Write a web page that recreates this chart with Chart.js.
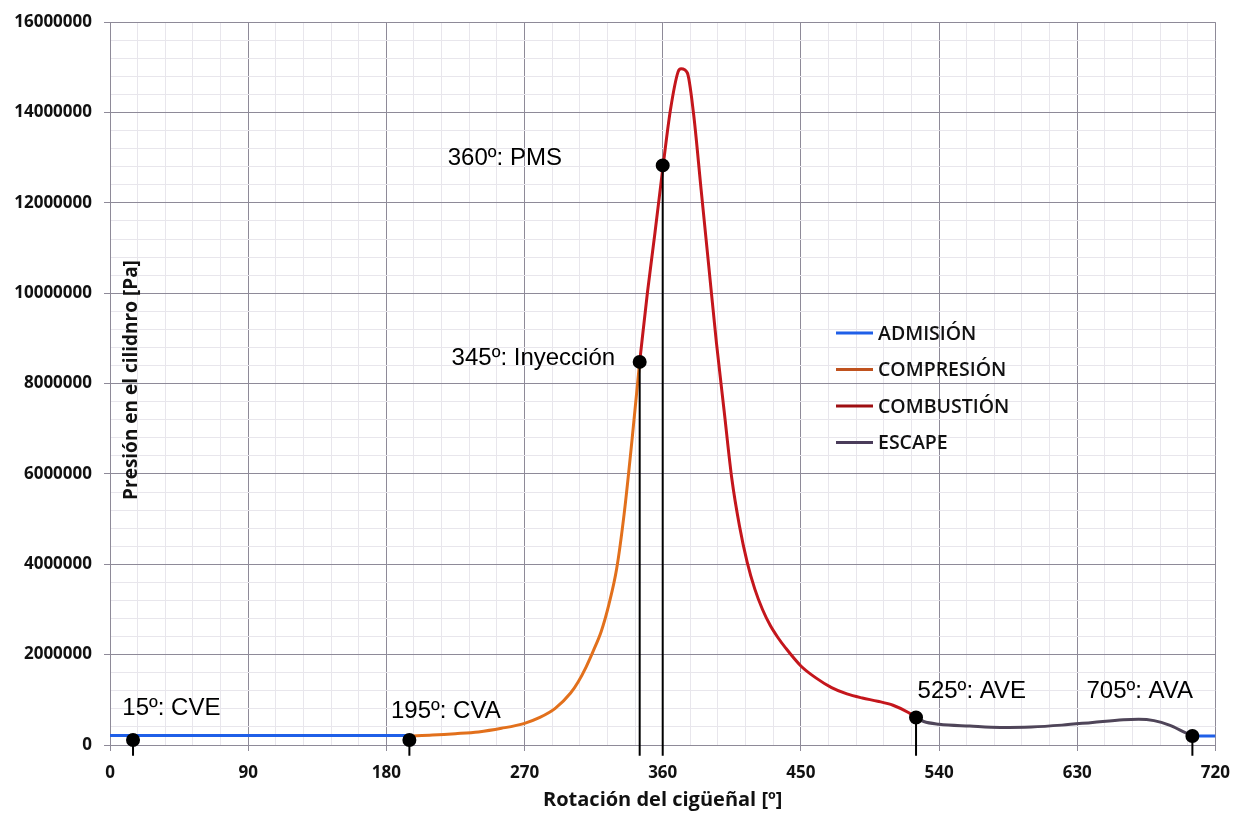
<!DOCTYPE html>
<html lang="es">
<head>
<meta charset="utf-8">
<title>Presión en el cilindro</title>
<script src="https://cdn.jsdelivr.net/npm/chart.js@4.4.1/dist/chart.umd.min.js"></script>
<style>
  html, body { margin: 0; padding: 0; background: #fff; }
</style>
</head>
<body>
<canvas id="presion" width="1242" height="816"></canvas>
<script>
// Datos: ángulo del cigüeñal (º) y presión (Pa)
const anguloAdmision = [0, 195];
const presionAdmision = [210000, 210000];
const anguloAdmisionFinal = [705, 720];
const presionAdmisionFinal = [200000, 200000];

const anguloCompresion = [195, 210, 225, 240, 255, 270, 280, 290, 300, 305, 310, 315, 320, 325, 330, 335, 340, 345];
const presionCompresion = [200000, 220000, 250000, 290000, 370000, 480000, 610000, 810000, 1150000, 1400000,
    1720000, 2100000, 2520000, 3120000, 3900000, 5150000, 6750000, 8480000];

const anguloCombustion = [345, 350, 355, 360, 365, 370, 372, 376, 380, 385, 390, 395, 400, 405, 410, 415,
    420, 425, 430, 435, 440, 450, 460, 470, 480, 490, 500, 510, 520, 525];
const presionCombustion = [8480000, 10000000, 11350000, 12750000, 14050000, 14900000, 14970000, 14880000,
    14000000, 12300000, 10600000, 8900000, 7400000, 5900000, 4850000, 4050000, 3450000, 3000000, 2650000,
    2380000, 2150000, 1750000, 1480000, 1270000, 1130000, 1040000, 970000, 880000, 720000, 610000];

const anguloEscape = [525, 530, 540, 560, 580, 600, 620, 640, 660, 670, 680, 690, 700, 705];
const presionEscape = [610000, 520000, 460000, 420000, 390000, 400000, 440000, 500000, 560000, 570000,
    540000, 440000, 280000, 200000];

// Eventos marcados con punto negro y línea vertical
const anguloEventos = [15, 195, 345, 360, 525, 705];
const presionEventos = [110000, 110000, 8480000, 12830000, 610000, 200000];
const textoEventos = ['15º: CVE', '195º: CVA', '345º: Inyección', '360º: PMS', '525º: AVE', '705º: AVA'];

const etiquetasFases = ['ADMISIÓN', 'COMPRESIÓN', 'COMBUSTIÓN', 'ESCAPE'];

// Colores
const colorFases = ['#1f5fe8', '#e2701c', '#c4161c', '#4f4559'];
const colorLeyenda = ['#1f5fe8', '#c0521e', '#9e0e12', '#4a3c5a'];
const gridMayor = '#8e8a98';
const gridMenor = '#e8e6ec';

// Posición de los textos de cada evento (en coordenadas de los ejes)
const anclaTextos = [[8, 820000], [183, 750000], [222.5, 8560000], [220, 12980000], [526, 1190000], [636, 1190000]];

const puntos = (xs, ys) => xs.map((x, i) => ({ x: x, y: ys[i] }));

const lineaFase = (label, xs, ys, color) => ({
    label: label,
    data: puntos(xs, ys),
    borderColor: color,
    backgroundColor: color,
    borderWidth: 3,
    pointRadius: 0,
    cubicInterpolationMode: 'monotone'
});

// Líneas verticales de los eventos (bajan un poco por debajo del eje)
const lineasEventos = anguloEventos.map((a, i) => ({
    label: textoEventos[i],
    data: [{ x: a, y: presionEventos[i] }, { x: a, y: -240000 }],
    borderColor: '#000',
    backgroundColor: '#000',
    borderWidth: 2,
    pointRadius: [6, 0],
    pointHoverRadius: [6, 0],
    clip: false
}));

const datasets = [
    ...lineasEventos,
    lineaFase(etiquetasFases[0], anguloAdmision, presionAdmision, colorFases[0]),
    lineaFase(etiquetasFases[0], anguloAdmisionFinal, presionAdmisionFinal, colorFases[0]),
    lineaFase(etiquetasFases[1], anguloCompresion, presionCompresion, colorFases[1]),
    lineaFase(etiquetasFases[2], anguloCombustion, presionCombustion, colorFases[2]),
    lineaFase(etiquetasFases[3], anguloEscape, presionEscape, colorFases[3])
];

// Textos, leyenda y título del eje Y dentro del área del gráfico
const anotaciones = {
    id: 'anotaciones',
    afterDatasetsDraw(chart) {
        const ctx = chart.ctx;
        const sx = chart.scales.x, sy = chart.scales.y;
        ctx.save();
        ctx.fillStyle = '#000';
        ctx.font = '24px "Liberation Sans", Arial, sans-serif';
        ctx.textAlign = 'left';
        ctx.textBaseline = 'middle';
        textoEventos.forEach((t, i) => {
            ctx.fillText(t, sx.getPixelForValue(anclaTextos[i][0]), sy.getPixelForValue(anclaTextos[i][1]));
        });

        // leyenda
        ctx.font = '600 19.5px "Open Sans", sans-serif';
        etiquetasFases.forEach((t, i) => {
            const y = 333 + i * 36.5;
            ctx.strokeStyle = colorLeyenda[i];
            ctx.lineWidth = 3;
            ctx.beginPath();
            ctx.moveTo(836, y);
            ctx.lineTo(873, y);
            ctx.stroke();
            ctx.fillStyle = '#111';
            ctx.fillText(t, 878, y + 1);
        });

        // título del eje Y
        ctx.translate(132, 380);
        ctx.rotate(-Math.PI / 2);
        ctx.textAlign = 'center';
        ctx.font = 'bold 19px "Open Sans", sans-serif';
        ctx.fillText('Presión en el cilidnro [Pa]', 0, 0);
        ctx.restore();
    }
};

const esMayorX = (v) => v % 90 === 0;
const esMayorY = (v) => v % 2000000 === 0;

new Chart(document.getElementById('presion'), {
    type: 'line',
    data: { datasets: datasets },
    options: {
        responsive: false,
        devicePixelRatio: 1,
        animation: false,
        layout: { padding: { top: 20, right: 26, left: 0, bottom: 0 } },
        plugins: {
            legend: { display: false },
            tooltip: { enabled: false }
        },
        scales: {
            x: {
                type: 'linear',
                min: 0,
                max: 720,
                afterFit: (scale) => { scale.height = 71; },
                ticks: {
                    stepSize: 18,
                    autoSkip: false,
                    maxRotation: 0,
                    padding: 12,
                    color: '#111',
                    font: { family: '"Open Sans", sans-serif', size: 17, weight: 'bold' },
                    callback: (v) => esMayorX(v) ? String(v) : ''
                },
                grid: {
                    color: (c) => esMayorX(c.tick.value) ? gridMayor : gridMenor,
                    tickColor: (c) => esMayorX(c.tick.value) ? gridMayor : 'rgba(0,0,0,0)',
                    tickLength: 6
                },
                border: { color: gridMayor },
                title: {
                    display: true,
                    text: 'Rotación del cigüeñal [º]',
                    color: '#111',
                    font: { family: '"Open Sans", sans-serif', size: 20, weight: 'bold' },
                    padding: { top: 0, bottom: 4 }
                }
            },
            y: {
                min: 0,
                max: 16000000,
                afterFit: (scale) => { scale.width = 110; },
                ticks: {
                    stepSize: 400000,
                    autoSkip: false,
                    padding: 12,
                    color: '#111',
                    font: { family: '"Open Sans", sans-serif', size: 17, weight: 'bold' },
                    callback: (v) => esMayorY(v) ? String(v) : ''
                },
                grid: {
                    color: (c) => esMayorY(c.tick.value) ? gridMayor : gridMenor,
                    tickColor: (c) => esMayorY(c.tick.value) ? gridMayor : 'rgba(0,0,0,0)',
                    tickLength: 6
                },
                border: { color: gridMayor }
            }
        }
    },
    plugins: [anotaciones]
});
</script>
</body>
</html>
